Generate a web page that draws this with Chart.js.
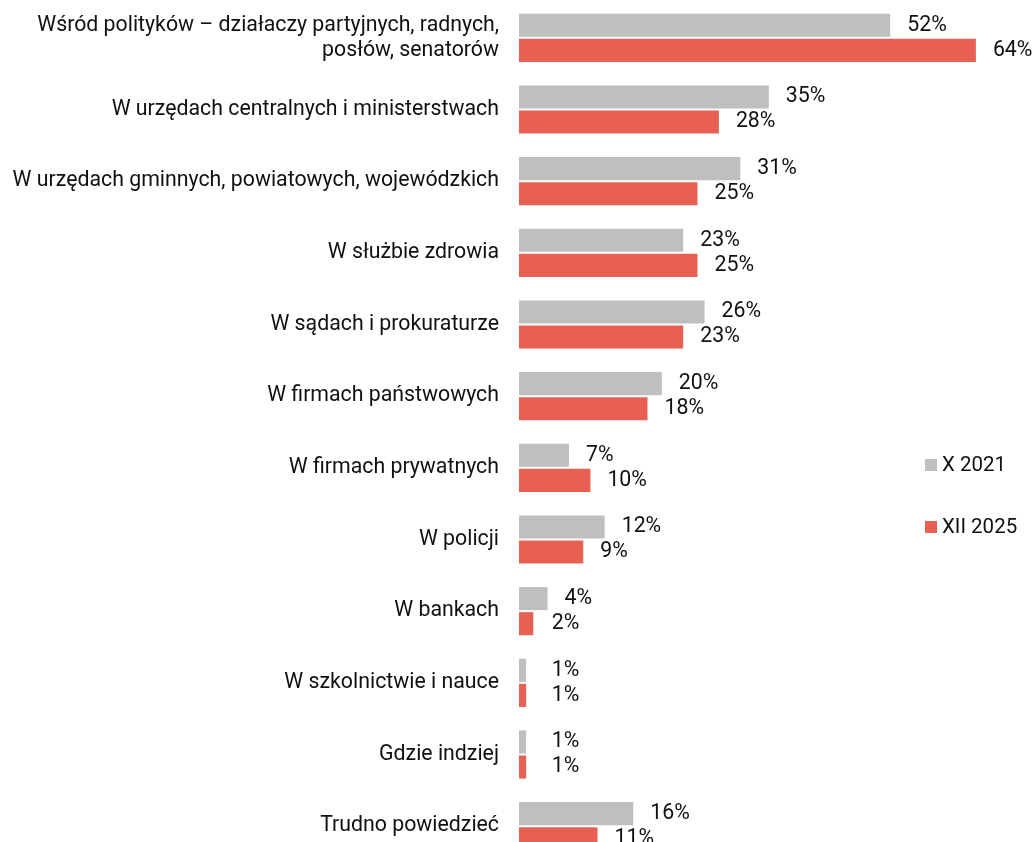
<!DOCTYPE html>
<html lang="pl">
<head>
<meta charset="utf-8">
<script src="https://cdn.jsdelivr.net/npm/chart.js@4"></script>
<style>
  html, body { margin: 0; padding: 0; background: #fff; overflow: hidden; }
  #wrap { position: relative; width: 1033px; height: 862px; }
  .legend { position: absolute; left: 925px; font: 20.5px/25px Roboto, sans-serif; color: #111; display: flex; align-items: center; }
  .legend span.box { width: 12px; height: 12px; margin-right: 5px; display: inline-block; }
</style>
</head>
<body>
<div id="wrap">
  <canvas id="chart"></canvas>
  <div class="legend" style="top:452px"><span class="box" style="background:#bfbfbf"></span><span>X 2021</span></div>
  <div class="legend" style="top:514px"><span class="box" style="background:#e86054"></span><span>XII 2025</span></div>
</div>
<script>
// Categories and values (percent)
const categories = [
    ['Wśród polityków – działaczy partyjnych, radnych,', 'posłów, senatorów'],
    'W urzędach centralnych i ministerstwach',
    'W urzędach gminnych, powiatowych, wojewódzkich',
    'W służbie zdrowia',
    'W sądach i prokuraturze',
    'W firmach państwowych',
    'W firmach prywatnych',
    'W policji',
    'W bankach',
    'W szkolnictwie i nauce',
    'Gdzie indziej',
    'Trudno powiedzieć'
];
const values2021 = [52, 35, 31, 23, 26, 20, 7, 12, 4, 1, 1, 16];
const values2025 = [64, 28, 25, 25, 23, 18, 10, 9, 2, 1, 1, 11];
const seriesLabels = ['X 2021', 'XII 2025'];

const FONT = 'Roboto, sans-serif';

// Draw value labels next to each bar
const valueLabels = {
    id: 'valueLabels',
    afterDatasetsDraw(chart) {
        const ctx = chart.ctx;
        const xScale = chart.scales.x;
        ctx.save();
        ctx.font = '21.3px ' + FONT;
        ctx.fillStyle = '#111';
        ctx.textAlign = 'left';
        ctx.textBaseline = 'middle';
        chart.data.datasets.forEach((ds, i) => {
            chart.getDatasetMeta(i).data.forEach((bar, j) => {
                const v = ds.data[j];
                const x = xScale.getPixelForValue(Math.max(v, 2.2)) + 17;
                ctx.fillText(v + '%', x, bar.y);
            });
        });
        ctx.restore();
    }
};

const ctx = document.getElementById('chart').getContext('2d');
new Chart(ctx, {
    type: 'bar',
    data: {
        labels: categories,
        datasets: [{
            label: seriesLabels[0],
            data: values2021,
            backgroundColor: '#bfbfbf',
            barPercentage: 0.92,
            categoryPercentage: 0.7
        }, {
            label: seriesLabels[1],
            data: values2025,
            backgroundColor: '#e86054',
            barPercentage: 0.92,
            categoryPercentage: 0.7
        }]
    },
    options: {
        indexAxis: 'y',
        responsive: true,
        maintainAspectRatio: false,
        animation: false,
        layout: { padding: { top: 2, right: 0, bottom: 0, left: 0 } },
        plugins: {
            legend: { display: false },
            tooltip: { enabled: false }
        },
        scales: {
            x: {
                display: false,
                min: 0,
                max: 72
            },
            y: {
                grid: { display: false, drawTicks: false },
                border: { display: false },
                ticks: {
                    color: '#111',
                    padding: 20,
                    font: { family: FONT, size: 21.3, lineHeight: 1.17 }
                },
                afterFit(scale) {
                    scale.width = 519;
                    scale.paddingTop = 0;
                    scale.paddingBottom = 0;
                }
            }
        }
    },
    plugins: [valueLabels]
});
</script>
</body>
</html>
